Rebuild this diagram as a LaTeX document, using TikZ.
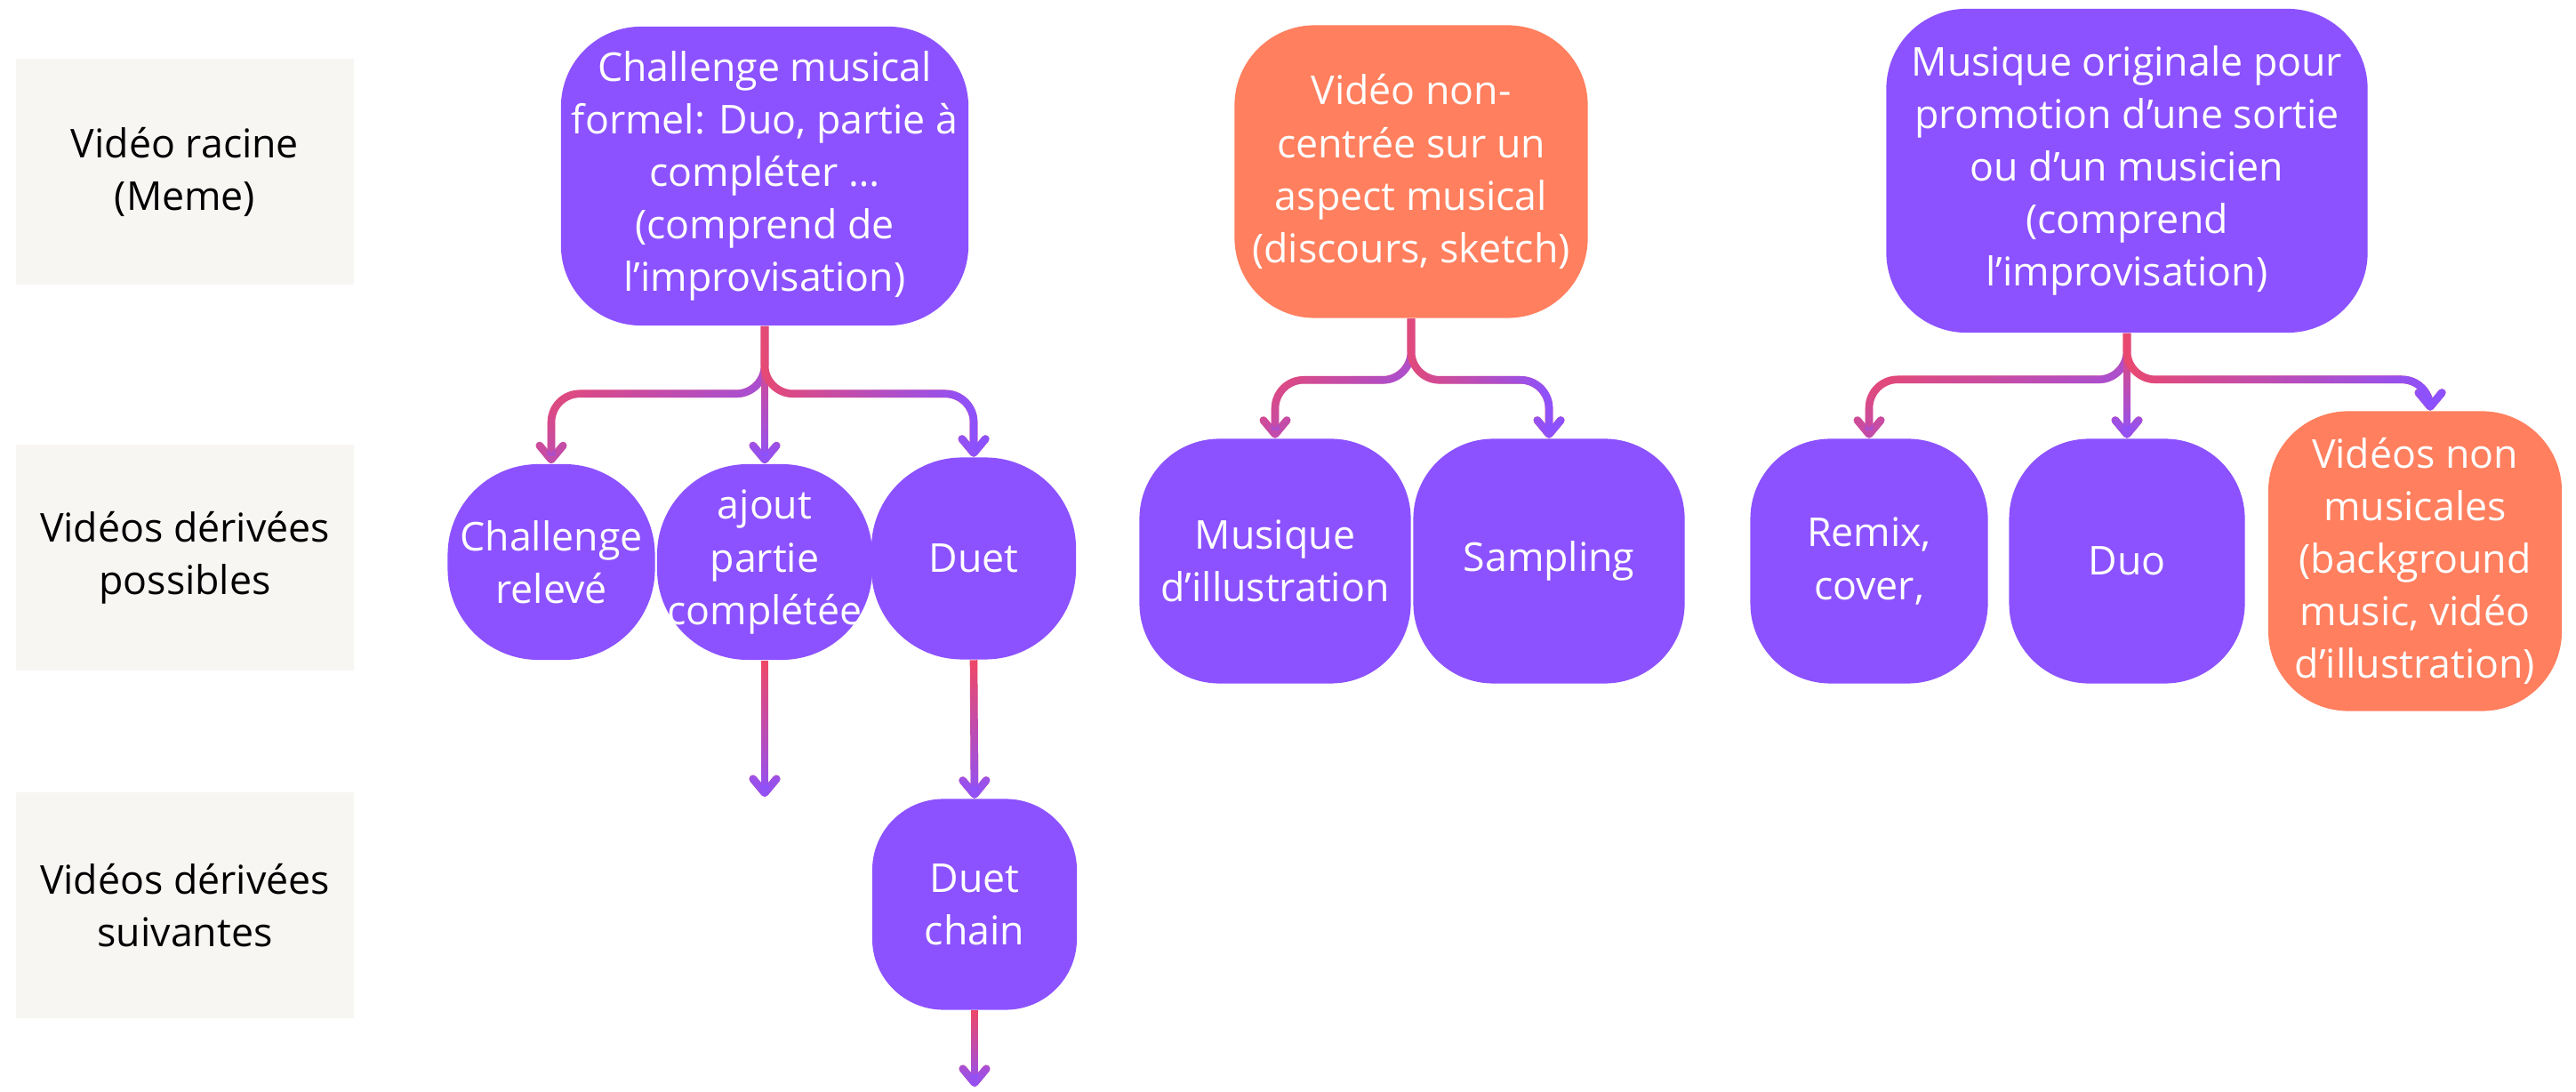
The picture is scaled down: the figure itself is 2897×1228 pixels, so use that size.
\documentclass[tikz,border=0pt]{standalone}
\usepackage{fontspec}
\setmainfont{Open Sans}
\usepackage{tikz}
\usetikzlibrary{arrows.meta}
\usetikzlibrary{fadings}
\definecolor{cpurple}{RGB}{140, 82, 255}
\definecolor{corange}{RGB}{255, 127, 94}
\definecolor{cred}{RGB}{242, 72, 98}
\definecolor{cbeige}{RGB}{248, 246, 243}
\newcommand{\nodefont}{\fontsize{12.7}{16.8}\selectfont}
\tikzfading[name = fade down, top color = transparent!100, bottom color = transparent!0]
\tikzfading[name = fade right, left color = transparent!100, right color = transparent!0]
\tikzset{lab/.style = {fill = cbeige, minimum width = 3.79cm, minimum height = 2.53cm, inner sep = 0, align = center, font = \nodefont}}
\tikzset{box/.style = {fill = cpurple, text = white, inner sep = 0, align = center, font = \nodefont, rounded corners = 0.9cm}}
\tikzset{link/.style = {line width = 2.45pt, rounded corners = 0.32cm, -{Straight Barb[length = 4.5pt, width = 7.5pt, round]}}}
\tikzset{fdown/.style = {path fading = fade down}}
\tikzset{fright/.style = {path fading = fade right}}
\tikzset{fdiag/.style = {path fading = fade down, fading angle = 45}}
\newcommand{\glink}[3]{%
  \draw [link, cred] #2 #3;
  \draw [link, cpurple, #1] #2 ++(-30, 0) ++(60, 0) #2 #3;}

\begin{document}
\begin{tikzpicture}[x = 0.01cm, y = -0.01cm]
  \useasboundingbox (0, 0) rectangle (2897, 1228);

  \node [lab] (lab1) at (208, 193) {Vidéo racine\\(Meme)};
  \node [lab] (lab2) at (208, 627) {Vidéos dérivées\\possibles};
  \node [lab] (lab3) at (208, 1018) {Vidéos dérivées\\suivantes};

  \node [box, minimum width = 4.58cm, minimum height = 3.36cm] (r1) at (860, 198)
    {Challenge musical\\formel: Duo, partie à\\compléter …\\(comprend de\\l’improvisation)};
  \node [box, fill = corange, minimum width = 3.97cm, minimum height = 3.29cm] (r2) at (1587, 193)
    {Vidéo non-\\centrée sur un\\aspect musical\\(discours, sketch)};
  \node [box, minimum width = 5.41cm, minimum height = 3.64cm] (r3) at (2392, 192)
    {Musique originale pour\\promotion d’une sortie\\ou d’un musicien\\(comprend\\l’improvisation)};

  \node [box, rounded corners = 1.02cm, minimum width = 2.33cm, minimum height = 2.2cm] (c1) at (620, 632) {Challenge\\relevé};
  \node [box, rounded corners = 1.02cm, minimum width = 2.42cm, minimum height = 2.2cm] (c2) at (860, 632) {ajout\\partie\\complétée};
  \node [box, rounded corners = 1.02cm, minimum width = 2.3cm, minimum height = 2.27cm] (c3) at (1095, 628) {Duet};
  \node [box, rounded corners = 0.8cm, minimum width = 2.3cm, minimum height = 2.37cm] (c4) at (1096, 1017) {Duet\\chain};

  \node [box, minimum width = 3.05cm, minimum height = 2.75cm] (m1) at (1434, 631) {Musique\\d’illustration};
  \node [box, minimum width = 3.05cm, minimum height = 2.75cm] (m2) at (1742, 631) {Sampling};

  \node [box, minimum width = 2.67cm, minimum height = 2.75cm] (p1) at (2102, 631) {Remix,\\cover,};
  \node [box, minimum width = 2.65cm, minimum height = 2.75cm] (p2) at (2392, 631) {Duo};
  \node [box, fill = corange, minimum width = 3.3cm, minimum height = 3.37cm] (p3) at (2716, 631)
    {Vidéos non\\musicales\\(background\\music, vidéo\\d’illustration)};

  \coordinate (e1) at (860, 896);
  \coordinate (e2) at (1096, 1222);

  \glink{fdiag}{(r1.south)}{-- ++(0, 76) -| (c1.north)}
  \glink{fdown}{(r1.south)}{-- (c2.north)}
  \glink{fright}{(r1.south)}{-- ++(0, 76) -| (c3.north)}
  \glink{fdown}{(c2.south)}{-- (e1)}
  \glink{fdown}{(c3.south)}{-- (c4.north)}
  \glink{fdown}{(c4.south)}{-- (e2)}

  \glink{fdiag}{(r2.south)}{-- ++(0, 69) -| (m1.north)}
  \glink{fright}{(r2.south)}{-- ++(0, 69) -| (m2.north)}

  \glink{fdiag}{(r3.south)}{-- ++(0, 52) -| (p1.north)}
  \glink{fdown}{(r3.south)}{-- (p2.north)}
  \glink{fright}{(r3.south)}{-- ++(0, 52) -| ([xshift = 0.17cm]p3.north)}
\end{tikzpicture}
\end{document}
